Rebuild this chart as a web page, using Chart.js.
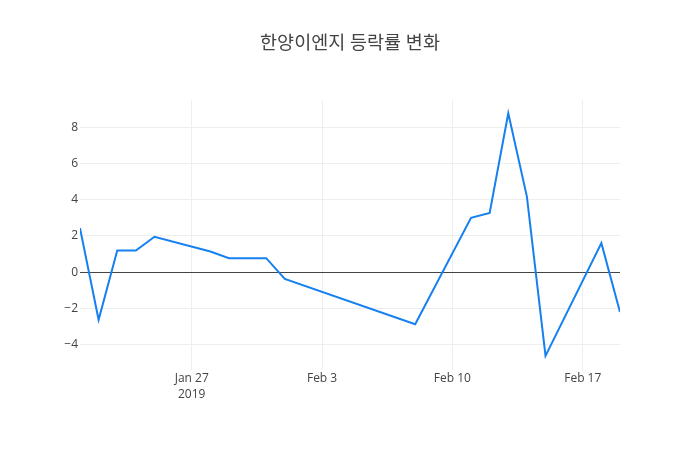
<!DOCTYPE html>
<html lang="ko">
<head>
    <meta charset="UTF-8">
    <title>한양이엔지 등락률 변화</title>
    <script src="https://cdn.jsdelivr.net/npm/chart.js"></script>
    <style>
        body { margin: 0; background: #fff; }
        .chart-container { width: 700px; height: 450px; }
    </style>
</head>
<body>
    <div class="chart-container">
        <canvas id="lineChart" width="700" height="450"></canvas>
    </div>

    <script>
        // trading days and daily change (%)
        const dates = [
            '2019-01-21', '2019-01-22', '2019-01-23', '2019-01-24', '2019-01-25',
            '2019-01-28', '2019-01-29', '2019-01-30', '2019-01-31', '2019-02-01',
            '2019-02-08', '2019-02-11', '2019-02-12', '2019-02-13', '2019-02-14',
            '2019-02-15', '2019-02-18', '2019-02-19'
        ];
        const changes = [
            2.43, -2.63, 1.19, 1.19, 1.95,
            1.14, 0.77, 0.77, 0.77, -0.37,
            -2.87, 3.0, 3.27, 8.77, 4.17,
            -4.62, 1.6, -2.2
        ];
        const xTickDates = ['2019-01-27', '2019-02-03', '2019-02-10', '2019-02-17'];
        const xTickLabels = [['Jan 27', '2019'], 'Feb 3', 'Feb 10', 'Feb 17'];
        const yTicks = [-4, -2, 0, 2, 4, 6, 8];

        const DAY = 86400000;
        const toDay = s => Date.parse(s + 'T00:00:00Z') / DAY;

        const points = dates.map((d, i) => ({ x: toDay(d), y: changes[i] }));
        const xTickValues = xTickDates.map(toDay);

        const font = "'Open Sans', 'Noto Sans CJK KR', sans-serif";

        const ctx = document.getElementById('lineChart').getContext('2d');
        new Chart(ctx, {
            type: 'line',
            data: {
                datasets: [{
                    data: points,
                    borderColor: 'rgb(22,128,240)',
                    borderWidth: 2,
                    pointRadius: 0,
                    tension: 0,
                    fill: false
                }]
            },
            options: {
                responsive: false,
                animation: false,
                layout: { padding: 0 },
                plugins: {
                    legend: { display: false },
                    tooltip: { enabled: false },
                    title: {
                        display: true,
                        text: '한양이엔지 등락률 변화',
                        color: '#444',
                        font: { family: font, size: 18.5, weight: 'normal', lineHeight: 1.2 },
                        padding: { top: 33, bottom: 44.8 }
                    }
                },
                scales: {
                    x: {
                        type: 'linear',
                        min: toDay(dates[0]),
                        max: toDay(dates[dates.length - 1]),
                        border: { display: false },
                        grid: { color: '#eee', lineWidth: 1, drawTicks: false },
                        afterBuildTicks: scale => {
                            scale.ticks = xTickValues.map(v => ({ value: v }));
                        },
                        afterFit: scale => {
                            scale.height = 80;
                            scale.paddingLeft = 0;
                            scale.paddingRight = 80;
                        },
                        ticks: {
                            autoSkip: false,
                            maxRotation: 0,
                            padding: 1,
                            color: '#444',
                            font: { family: font, size: 12, lineHeight: 1.3 },
                            callback: value => {
                                const i = xTickValues.indexOf(value);
                                return i >= 0 ? xTickLabels[i] : '';
                            }
                        }
                    },
                    y: {
                        min: -5.4,
                        max: 9.5,
                        border: { display: false },
                        grid: {
                            drawTicks: false,
                            lineWidth: 1,
                            color: c => (c.tick && c.tick.value === 0) ? '#444' : '#eee'
                        },
                        afterBuildTicks: scale => {
                            scale.ticks = yTicks.map(v => ({ value: v }));
                        },
                        afterFit: scale => {
                            scale.width = 80;
                            scale.paddingTop = 0;
                            scale.paddingBottom = 0;
                        },
                        ticks: {
                            padding: 2,
                            color: '#444',
                            font: { family: font, size: 12 },
                            callback: v => v < 0 ? '\u2212' + Math.abs(v) : String(v)
                        }
                    }
                }
            }
        });
    </script>
</body>
</html>
